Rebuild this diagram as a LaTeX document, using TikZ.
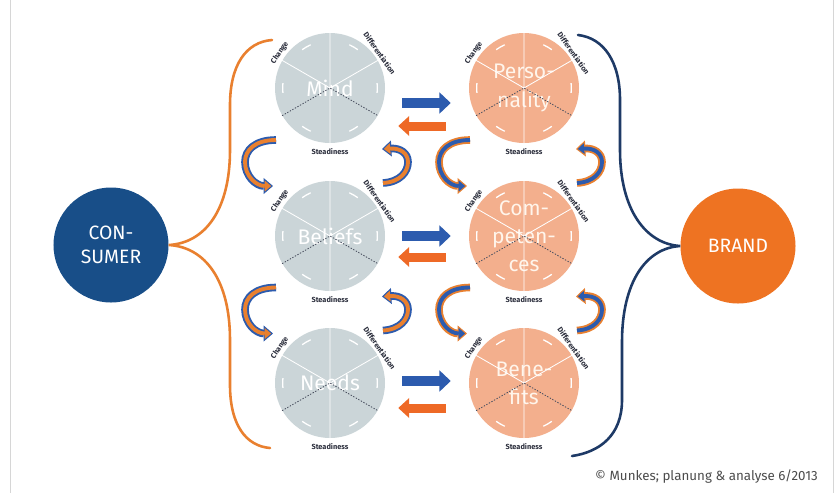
\documentclass[tikz,border=0pt]{standalone}
\usepackage{fontspec}
\setmainfont{Fira Sans}
\usetikzlibrary{arrows.meta,calc}

\definecolor{discgray}{HTML}{CBD5D8}
\definecolor{discsalmon}{HTML}{F3AF8D}
\definecolor{consblue}{HTML}{184E88}
\definecolor{brandorange}{HTML}{EE7322}
\definecolor{braceorange}{HTML}{E9802F}
\definecolor{braceblue}{HTML}{1E3A66}
\definecolor{arrblue}{HTML}{2C5BAE}
\definecolor{arrorange}{HTML}{EE6926}
\definecolor{labdark}{HTML}{2B2E3C}
\definecolor{spokedark}{HTML}{4A5060}
\definecolor{framegray}{HTML}{D6D6D6}

\tikzset{
  disc/.style={circle, minimum size=3.3cm, inner sep=0pt, align=center,
    text=white, font=\fontsize{18}{24}\selectfont},
  bigdisc/.style={circle, minimum size=3.45cm, inner sep=0pt, align=center,
    text=white, font=\fontsize{16.5}{20}\selectfont},
  tinylab/.style={font=\fontsize{6.3}{7}\selectfont\bfseries, text=labdark, inner sep=0.6pt},
  bluearrow/.style={arrblue, line width=0.3cm,
    -{Triangle[width=0.62cm,length=0.34cm]}, shorten <=0.51cm, shorten >=0.54cm},
  orangearrow/.style={arrorange, line width=0.27cm,
    -{Triangle[width=0.58cm,length=0.33cm]}, shorten <=0.69cm, shorten >=0.39cm},
  bracepath/.style={line width=2.2pt, line cap=round}
}

% spokes, rim ticks and the three rim labels of one disc
\newcommand\segdisc[1]{%
  \draw[white, line width=0.7pt] (#1.north) -- (#1.south)
    (#1.center) -- (#1.30) (#1.center) -- (#1.150);
  \draw[spokedark, dash pattern=on 1.2pt off 1.3pt, line width=0.7pt]
    (#1.210) -- (#1.center) -- (#1.330);
  \foreach \a in {0,60,...,300}
    \draw[white, line width=1.1pt] ($(#1.center)+(\a-6:1.42cm)$)
      arc[start angle=\a-6, end angle=\a+6, radius=1.42cm];
  \node[tinylab, rotate=55, anchor=south] at ($(#1.center)+(145:1.7cm)$) {Change};
  \node[tinylab, rotate=-55, anchor=south] at ($(#1.center)+(35:1.7cm)$) {Differentiation};
  \node[tinylab, anchor=north] at ($(#1.center)+(270:1.8cm)$) {Steadiness};
}

% the two paths of a cycle: a "C" on the left, a ")" on the right
\newcommand\cpathL[1]{([shift={(-54,-22)}]#1) .. controls ([shift={(-75,-22)}]#1) and ([shift={(-85,-12)}]#1) .. ([shift={(-85,0)}]#1) .. controls ([shift={(-85,14)}]#1) and ([shift={(-74,24)}]#1) .. ([shift={(-57,24)}]#1)}
\newcommand\cpathR[1]{([shift={(53,21)}]#1) .. controls ([shift={(70,20)}]#1) and ([shift={(78,10)}]#1) .. ([shift={(78,0)}]#1) .. controls ([shift={(78,-9)}]#1) and ([shift={(70,-14)}]#1) .. ([shift={(52,-13)}]#1)}

% a pair of curved two-tone arrows around a midpoint: #2 rim, #3 core
\newcommand\cyclepair[3]{%
  \draw[#2, line width=6.5pt, -{Triangle[width=13.5pt,length=8pt,fill=#3,line width=0.9pt]}] \cpathL{#1};
  \draw[#3, line width=3.3pt, shorten >=7pt] \cpathL{#1};
  \draw[#2, line width=6.5pt, -{Triangle[width=13.5pt,length=8pt,fill=#3,line width=0.9pt]}] \cpathR{#1};
  \draw[#3, line width=3.3pt, shorten >=7pt] \cpathR{#1};
}

\begin{document}
\begin{tikzpicture}[x=0.03cm, y=-0.03cm]
\useasboundingbox (0,0) rectangle (835,493);
\fill[white] (0,0) rectangle (835,493);
\draw[framegray, line width=0.6pt] (10,0) -- (10,493) (833,0) -- (833,493);

% end nodes
\node[bigdisc, fill=consblue] (consumer) at (111,245) {CON-\\SUMER};
\node[bigdisc, fill=brandorange] (brand) at (738,246) {BRAND};

% consumer column
\node[disc, fill=discgray] (mind) at (330,88) {Mind};
\node[disc, fill=discgray] (beliefs) at (330,236) {Beliefs};
\node[disc, fill=discgray] (needs) at (330,383) {Needs};
% brand column
\node[disc, fill=discsalmon, text=white!92!orange] (pers) at (524,88) {Perso-\\nality};
\node[disc, fill=discsalmon, text=white!92!orange] (comp) at (524,236) {Com-\\peten-\\ces};
\node[disc, fill=discsalmon, text=white!92!orange] (bene) at (524,383) {Bene-\\fits};

\foreach \n in {mind,beliefs,needs,pers,comp,bene} {\segdisc{\n}}

% braces
\coordinate (obtop) at (272,40);
\coordinate (obbot) at (270,448);
\coordinate (bbtop) at (578,35);
\coordinate (bbbot) at (572,456);
\draw[bracepath, braceorange] (obtop) .. controls (246,42) and (230,65) .. (230,105)
  -- (230,150) .. controls (230,210) and (205,243) .. (consumer.east)
  .. controls (205,247) and (230,280) .. (230,340)
  -- (230,385) .. controls (230,425) and (246,446) .. (obbot);
\draw[bracepath, braceblue] (bbtop) .. controls (604,38) and (620,62) .. (620,100)
  -- (620,150) .. controls (620,210) and (646,244) .. (brand.west)
  .. controls (646,248) and (622,282) .. (622,342)
  -- (622,400) .. controls (622,435) and (600,452) .. (bbbot);

% straight exchange arrows
\draw[bluearrow] ($(mind.east)+(0,15)$) -- ($(pers.west)+(0,15)$);
\draw[orangearrow] ($(pers.west)+(0,38)$) -- ($(mind.east)+(0,38)$);
\draw[bluearrow] ($(beliefs.east)+(0,0)$) -- ($(comp.west)+(0,0)$);
\draw[orangearrow] ($(comp.west)+(0,21)$) -- ($(beliefs.east)+(0,21)$);
\draw[bluearrow] ($(needs.east)+(0,-2)$) -- ($(bene.west)+(0,-2)$);
\draw[orangearrow] ($(bene.west)+(0,25)$) -- ($(needs.east)+(0,25)$);

% curved cycle arrows between the rows
\coordinate (lc1) at ($(mind)!0.5!(beliefs)$);
\coordinate (lc2) at ($(beliefs)!0.5!(needs)$);
\coordinate (rc1) at ($(pers)!0.5!(comp)$);
\coordinate (rc2) at ($(comp)!0.5!(bene)$);
\cyclepair{lc1}{arrblue}{braceorange}
\cyclepair{lc2}{arrblue}{braceorange}
\cyclepair{rc1}{braceorange}{arrblue}
\cyclepair{rc2}{braceorange}{arrblue}

% source line
\node[font=\fontsize{11.4}{13}\selectfont, text=black!70, anchor=east, inner sep=0pt]
  (source) at (818,477) {© Munkes; planung \& analyse 6/2013};
\end{tikzpicture}
\end{document}
